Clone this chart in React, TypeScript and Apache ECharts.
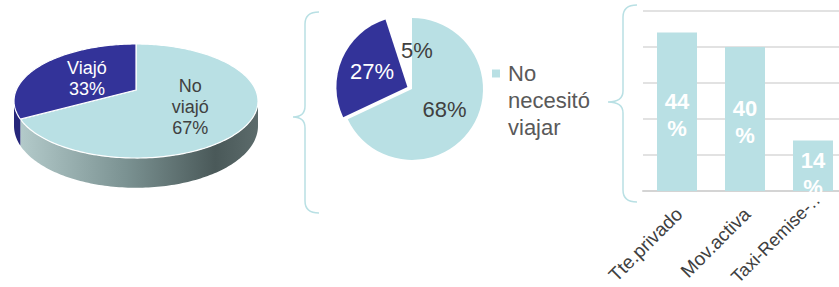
import React, { useEffect, useRef } from 'react';
import * as echarts from 'echarts';

// ---------- data ----------
const pie3dNames = ['No viajó', 'Viajó'];
const pie3dValues = [67, 33];

const pieNames = ['No necesitó viajar', 'Necesitó viajar', 'Otro'];
const pieValues = [68, 27, 5];

const barCategories = ['Tte.privado', 'Mov.activa', 'Taxi-Remise-…'];
const barValues = [44, 40, 14];
const barAxisMax = 50;
const barAxisStep = 10;

// ---------- styles ----------
const LIGHT = '#b9e0e4';
const NAVY = '#333399';
const NAVY_SIDE = '#26267a';
const TXT = '#404040';
const FONT = '"Liberation Sans", Arial, sans-serif';

echarts.graphic.registerShape(
  'braceMid',
  echarts.graphic.extendPath(
    'M319,12 Q305,12 305,24 L305,106 Q305,117 293,117 Q305,117 305,128 L305,201 Q305,213 319,213',
    {}
  )
);
echarts.graphic.registerShape(
  'braceRight',
  echarts.graphic.extendPath(
    'M637,5 Q623,5 623,17 L623,91 Q623,102 608,102 Q623,102 623,113 L623,190 Q623,202 637,202',
    {}
  )
);

// 3D pie geometry (perspective projection of a disc)
const G = { cx: 136, cy: 90, A: 119.7, B: 54.9, k: 0.193, D: 24 };
const TAU = Math.PI * 2;

function proj(t: number, drop = 0, f = 1): number[] {
  const w = 1 + G.k * f * Math.cos(t);
  return [G.cx + (f * G.A * Math.sin(t)) / w, G.cy + (-f * G.B * Math.cos(t) + drop) / w];
}
function arcPts(a: number, b: number, drop: number): number[][] {
  const n = Math.max(2, Math.ceil((b - a) / 0.02));
  const pts: number[][] = [];
  for (let i = 0; i <= n; i++) pts.push(proj(a + ((b - a) * i) / n, drop));
  return pts;
}

export default function App() {
  const ref = useRef<HTMLDivElement>(null);

  useEffect(() => {
    if (!ref.current) return;
    const chart = echarts.init(ref.current, undefined, { renderer: 'svg' });
    const total3d = pie3dValues.reduce((s, v) => s + v, 0);
    const sideGrad = new echarts.graphic.LinearGradient(0, 0, 1, 0, [
      { offset: 0, color: '#b3caca' },
      { offset: 0.45, color: '#7a9191' },
      { offset: 0.82, color: '#4a5959' },
      { offset: 1, color: '#5c6b6b' },
    ]);
    const topColors = [LIGHT, NAVY];
    const sideColors = [sideGrad, NAVY_SIDE];
    const labelColors = [TXT, '#ffffff'];

    const option: any = {
      animation: false,
      textStyle: { fontFamily: FONT },
      legend: {
        data: [pieNames[0]],
        left: 492,
        top: 6,
        padding: 0,
        icon: 'rect',
        itemWidth: 8,
        itemHeight: 8,
        selectedMode: false,
        formatter: (n: string) => '\n\n' + n.split(' ').join('\n'),
        textStyle: {
          fontSize: 22,
          lineHeight: 27,
          color: '#595959',
          fontFamily: FONT,
          padding: [0, 0, 0, 3],
        },
      },
      grid: {
        left: 643,
        width: 204,
        top: 11,
        bottom: 96,
        containLabel: false,
        outerBoundsMode: 'none',
      },
      xAxis: {
        type: 'category',
        data: barCategories,
        axisTick: { show: false },
        axisLine: { lineStyle: { color: '#d4d4d4', width: 2 } },
        axisLabel: {
          interval: 0,
          rotate: 45,
          margin: 22,
          color: TXT,
          fontFamily: FONT,
          formatter: (v: string, i: number) => (i === 2 ? '{b|' + v + '}' : '{a|' + v + '}'),
          rich: {
            a: { fontSize: 19, color: TXT, fontFamily: FONT, padding: [0, -3, 0, 0] },
            b: { fontSize: 18, color: TXT, fontFamily: FONT, padding: [0, -20, 17, 0] },
          },
        },
      },
      yAxis: {
        type: 'value',
        min: 0,
        max: barAxisMax,
        interval: barAxisStep,
        axisLabel: { show: false },
        axisLine: { show: false },
        axisTick: { show: false },
        splitLine: { lineStyle: { color: '#d9d9d9', width: 1.5 } },
      },
      graphic: [
        { type: 'braceMid', x: 0, y: 0, style: { fill: 'none', stroke: LIGHT, lineWidth: 1.5 } },
        { type: 'braceRight', x: 0, y: 0, style: { fill: 'none', stroke: LIGHT, lineWidth: 1.5 } },
        { type: 'rect', z: 100, shape: { x: 788, y: 192, width: 51, height: 8 }, style: { fill: '#ffffff' } },
      ],
      series: [
        {
          type: 'custom',
          coordinateSystem: 'none',
          silent: true,
          data: pie3dValues.map((v) => [v]),
          renderItem: (params: any, api: any) => {
            const i = params.dataIndex;
            const val = api.value(0);
            const before = pie3dValues.slice(0, i).reduce((s, v) => s + v, 0);
            const a = (before / total3d) * TAU;
            const b = ((before + val) / total3d) * TAU;
            const s1 = Math.acos(-G.k);
            const s2 = TAU - s1;
            const lo = Math.max(a, s1);
            const hi = Math.min(b, s2);
            const children: any[] = [];
            if (hi > lo) {
              const top = arcPts(lo, hi, 0);
              const bot = arcPts(lo, hi, G.D).reverse();
              children.push({
                type: 'polygon',
                shape: { points: top.concat(bot) },
                style: { fill: sideColors[i] },
              });
            }
            children.push({
              type: 'polygon',
              shape: { points: [[G.cx, G.cy]].concat(arcPts(a, b, 0)) },
              style: { fill: topColors[i], stroke: '#ffffff', lineWidth: 1.2 },
            });
            const m = (a + b) / 2;
            const lp = proj(m, 0, 0.5);
            children.push({
              type: 'text',
              x: lp[0],
              y: lp[1] + 2,
              style: {
                text: pie3dNames[i].split(' ').join('\n') + '\n' + val + '%',
                fill: labelColors[i],
                fontSize: 18,
                lineHeight: 21,
                fontFamily: FONT,
                align: 'center',
                verticalAlign: 'middle',
              },
            });
            return { type: 'group', children };
          },
        },
        {
          type: 'pie',
          center: [412, 89],
          radius: 71,
          startAngle: 90,
          clockwise: true,
          avoidLabelOverlap: false,
          selectedMode: 'single',
          selectedOffset: 5,
          emphasis: { disabled: true },
          labelLine: { show: false },
          label: {
            position: 'inside',
            formatter: '{c}%',
            fontSize: 22,
            fontFamily: FONT,
          },
          labelLayout: (p: any) => (p.dataIndex === 2 ? { dx: 11 } : {}),
          data: pieValues.map((v, i) => ({
            value: v,
            name: pieNames[i],
            selected: i === 1,
            itemStyle: { color: [LIGHT, NAVY, '#ffffff'][i] },
            label: { color: [TXT, '#ffffff', TXT][i] },
          })),
        },
        {
          type: 'bar',
          data: barValues,
          barWidth: 40,
          itemStyle: { color: LIGHT },
          label: {
            show: true,
            position: 'inside',
            formatter: '{c}\n%',
            color: '#ffffff',
            fontWeight: 'bold',
            fontSize: 22,
            lineHeight: 27,
            fontFamily: FONT,
          },
          labelLayout: (p: any) => ({ dy: p.dataIndex === 2 ? 8 : 3 }),
        },
      ],
    };
    chart.setOption(option);
    return () => chart.dispose();
  }, []);

  return (
    <div
      ref={ref}
      style={{ position: 'fixed', left: 0, top: 0, width: 839, height: 287, background: '#ffffff' }}
    />
  );
}
